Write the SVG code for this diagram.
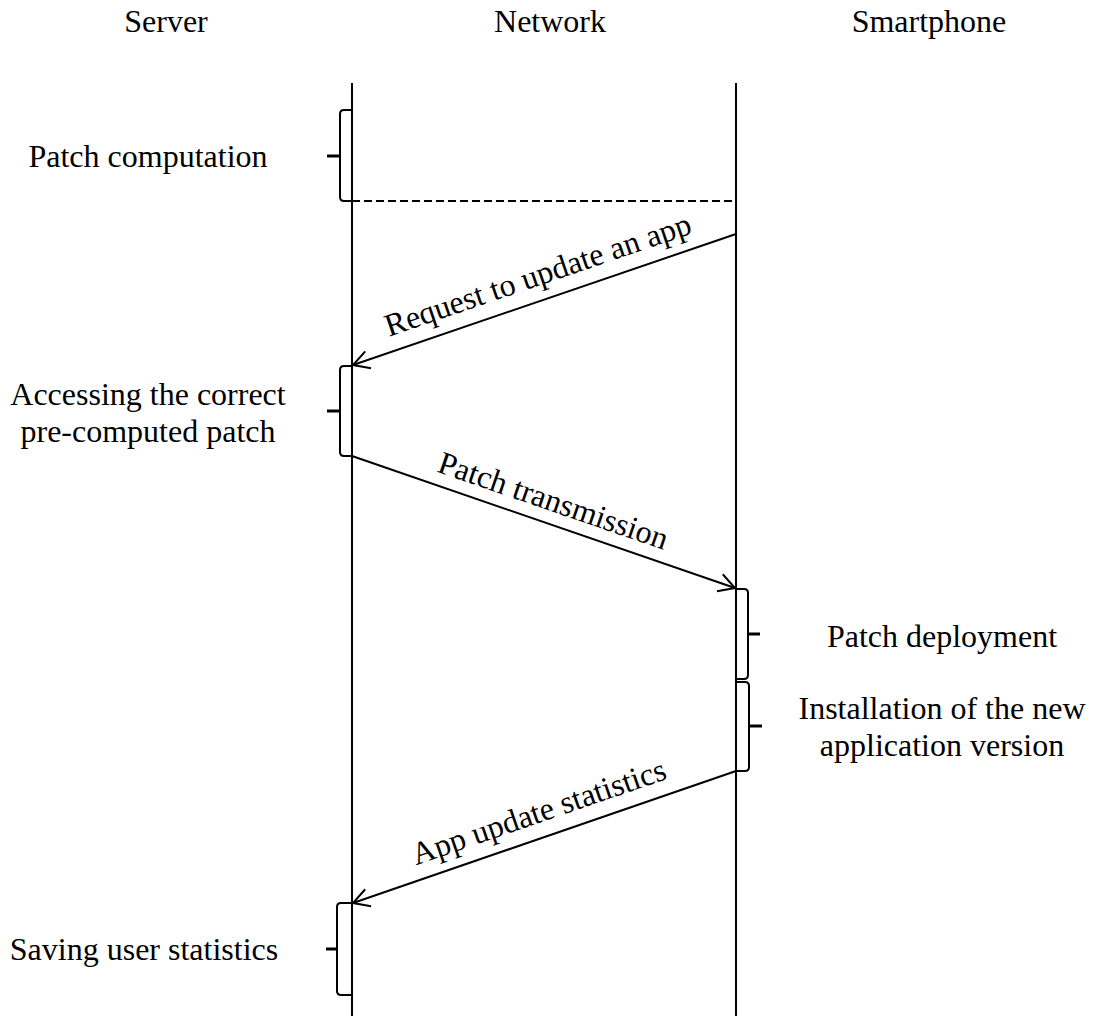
<svg xmlns="http://www.w3.org/2000/svg" width="1093" height="1018" viewBox="0 0 1093 1018">
  <style>
    text { font-family: "Liberation Serif", "Times New Roman", serif; font-size: 32px; fill: #000; }
    .life { stroke: #000; stroke-width: 2; fill: none; }
    .brace { stroke: #000; stroke-width: 2; fill: none; stroke-linejoin: round; }
    .tip { stroke: #000; stroke-width: 3; fill: none; }
    .msg { stroke: #000; stroke-width: 2; fill: none; marker-end: url(#open); }
    .dash { stroke: #000; stroke-width: 2; fill: none; stroke-dasharray: 8 4; }
  </style>
  <defs>
    <marker id="open" markerUnits="userSpaceOnUse" markerWidth="24" markerHeight="24" viewBox="-20 -12 24 24" refX="0" refY="0" orient="auto" overflow="visible">
      <path d="M-16,-9 L0,0 L-16,9" fill="none" stroke="#000" stroke-width="2"/>
    </marker>
  </defs>

  <!-- participant headers -->
  <g id="server-head"><text x="166" y="32" text-anchor="middle">Server</text></g>
  <g id="network-head"><text x="550" y="32" text-anchor="middle">Network</text></g>
  <g id="phone-head"><text x="929" y="32" text-anchor="middle">Smartphone</text></g>

  <!-- lifelines -->
  <g id="lifelines">
    <line class="life" x1="352" y1="83" x2="352" y2="1016"/>
    <line class="life" x1="736" y1="83" x2="736" y2="1016"/>
  </g>

  <!-- server-side activities -->
  <g id="patch-computation">
    <path class="brace" d="M352,110 H344 Q340,110 340,114 V197 Q340,201 344,201 H352"/>
    <line class="tip" x1="327" y1="156" x2="340" y2="156"/>
    <text x="148" y="167" text-anchor="middle">Patch computation</text>
  </g>
  <g id="accessing-patch">
    <path class="brace" d="M352,366 H344 Q340,366 340,370 V452 Q340,456 344,456 H352"/>
    <line class="tip" x1="327" y1="411" x2="340" y2="411"/>
    <text x="148" y="405" text-anchor="middle">Accessing the correct</text>
    <text x="148" y="442" text-anchor="middle">pre-computed patch</text>
  </g>
  <g id="saving-stats">
    <path class="brace" d="M352,903 H341 Q337,903 337,907 V991 Q337,995 341,995 H352"/>
    <line class="tip" x1="326" y1="949" x2="337" y2="949"/>
    <text x="144" y="960" text-anchor="middle">Saving user statistics</text>
  </g>

  <!-- smartphone-side activities -->
  <g id="patch-deployment">
    <path class="brace" d="M736,589 H744 Q748,589 748,593 V675 Q748,679 744,679 H736"/>
    <line class="tip" x1="748" y1="634" x2="760" y2="634"/>
    <text x="942" y="647" text-anchor="middle">Patch deployment</text>
  </g>
  <g id="installation">
    <path class="brace" d="M736,682 H745 Q749,682 749,686 V767 Q749,771 745,771 H736"/>
    <line class="tip" x1="749" y1="726" x2="762" y2="726"/>
    <text x="942" y="719" text-anchor="middle">Installation of the new</text>
    <text x="942" y="756" text-anchor="middle">application version</text>
  </g>

  <!-- messages -->
  <g id="connectors">
    <line class="dash" x1="352" y1="201" x2="736" y2="201"/>
    <line class="msg" x1="736" y1="234" x2="353" y2="365"/>
    <line class="msg" x1="352" y1="456" x2="735" y2="588"/>
    <line class="msg" x1="736" y1="771" x2="353" y2="903"/>
    <text transform="translate(546,299) rotate(-18.84)" y="-15" text-anchor="middle">Request to update an app</text>
    <text transform="translate(546,522) rotate(19.0)" y="-12" text-anchor="middle">Patch transmission</text>
    <text transform="translate(547,836) rotate(-18.97)" y="-15" text-anchor="middle">App update statistics</text>
  </g>
</svg>
